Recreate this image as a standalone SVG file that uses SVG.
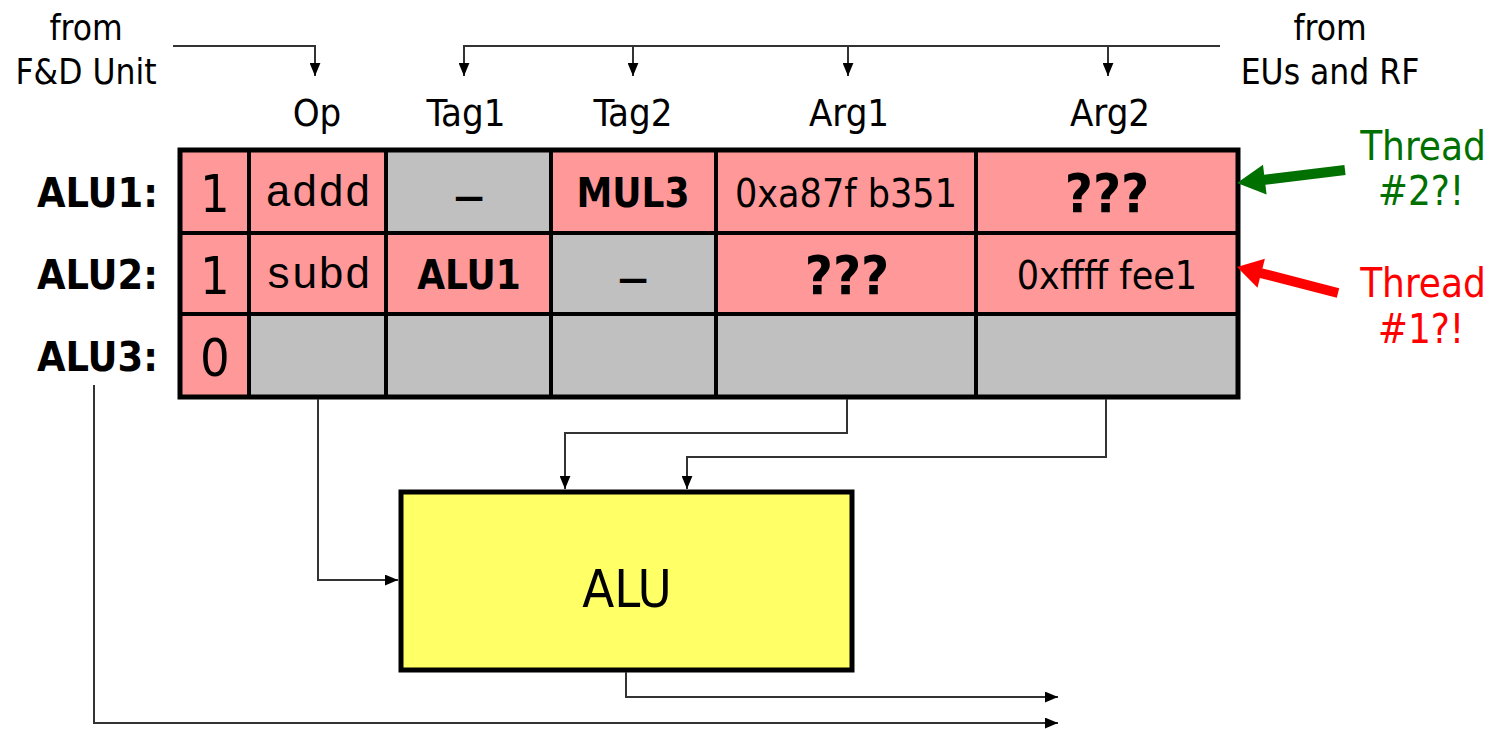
<svg xmlns="http://www.w3.org/2000/svg" width="1492" height="729" viewBox="0 0 1492 729">
<style>
.sans{font-family:"DejaVu Sans Condensed","DejaVu Sans","Liberation Sans",sans-serif;font-stretch:condensed;fill:#000}
.hdr{font-size:38px;text-anchor:middle}
.lbl{font-size:35px;text-anchor:middle}
.row{font-size:41px;font-weight:bold;text-anchor:end}
.val{font-size:39px;text-anchor:middle}
.bold{font-size:40px;font-weight:bold;text-anchor:middle}
.qq{font-size:54px;font-weight:bold;text-anchor:middle}
.dig{font-size:52px;text-anchor:middle}
.dash{font-size:33px;font-weight:bold;text-anchor:middle}
.mono{font-family:"Courier New","Nimbus Mono PS","Nimbus Mono L","FreeMono",Courier,"Liberation Mono",monospace;font-size:44px;text-anchor:middle;fill:#000}
.thr{font-size:40px;text-anchor:middle}
.pink{fill:#ff9999}
.gray{fill:#c0c0c0}
.grid{stroke:#000;stroke-width:4;fill:none}
.wire{stroke:#333;stroke-width:2;fill:none}
</style>
<defs>
<marker id="ah" viewBox="0 0 12 10" refX="12" refY="5" markerWidth="13" markerHeight="11" markerUnits="userSpaceOnUse" orient="auto">
<path d="M0,0 L12,5 L0,10 z" fill="#000"/>
</marker>
</defs>
<rect width="1492" height="729" fill="#fff"/>

<g id="src-fd">
<text class="sans lbl" x="86" y="40">from</text>
<text class="sans lbl" x="86" y="84">F&amp;D Unit</text>
</g>
<g id="src-eu">
<text class="sans lbl" x="1330" y="40">from</text>
<text class="sans lbl" x="1330" y="84">EUs and RF</text>
</g>

<g id="headers">
<text class="sans hdr" x="317" y="126">Op</text>
<text class="sans hdr" x="466" y="126">Tag1</text>
<text class="sans hdr" x="633" y="126">Tag2</text>
<text class="sans hdr" x="849" y="126">Arg1</text>
<text class="sans hdr" x="1110" y="126">Arg2</text>
</g>

<g id="row-labels">
<text class="sans row" x="158" y="207">ALU1:</text>
<text class="sans row" x="158" y="289">ALU2:</text>
<text class="sans row" x="158" y="371">ALU3:</text>
</g>

<g id="table">
<g id="row1">
<rect class="pink" x="180" y="150" width="69" height="83"/>
<rect class="pink" x="249" y="150" width="137" height="83"/>
<rect class="gray" x="386" y="150" width="165" height="83"/>
<rect class="pink" x="551" y="150" width="165" height="83"/>
<rect class="pink" x="716" y="150" width="260" height="83"/>
<rect class="pink" x="976" y="150" width="262" height="83"/>
<text class="sans dig" x="215" y="212">1</text>
<text class="mono" x="318" y="206">addd</text>
<text class="sans dash" x="469" y="208">—</text>
<text class="sans bold" x="633" y="207">MUL3</text>
<text class="sans val" x="846" y="207">0xa87f b351</text>
<text class="sans qq" x="1107" y="212">???</text>
</g>
<g id="row2">
<rect class="pink" x="180" y="233" width="69" height="81"/>
<rect class="pink" x="249" y="233" width="137" height="81"/>
<rect class="pink" x="386" y="233" width="165" height="81"/>
<rect class="gray" x="551" y="233" width="165" height="81"/>
<rect class="pink" x="716" y="233" width="260" height="81"/>
<rect class="pink" x="976" y="233" width="262" height="81"/>
<text class="sans dig" x="215" y="294">1</text>
<text class="mono" x="318" y="288">subd</text>
<text class="sans bold" x="469" y="289">ALU1</text>
<text class="sans dash" x="633" y="290">—</text>
<text class="sans qq" x="847" y="294">???</text>
<text class="sans val" x="1107" y="289">0xffff fee1</text>
</g>
<g id="row3">
<rect class="pink" x="180" y="314" width="69" height="83"/>
<rect class="gray" x="249" y="314" width="989" height="83"/>
<text class="sans dig" x="215" y="376">0</text>
</g>
<g id="grid">
<path class="grid" d="M249,150 V397 M386,150 V397 M551,150 V397 M716,150 V397 M976,150 V397 M180,233 H1238 M180,314 H1238"/>
<rect x="180" y="150" width="1058" height="247" fill="none" stroke="#000" stroke-width="5"/>
</g>
</g>

<g id="alu">
<rect x="401" y="492" width="451" height="178" fill="#ffff66" stroke="#000" stroke-width="5"/>
<text class="sans" x="627" y="607" font-size="52" text-anchor="middle">ALU</text>
</g>

<g id="thread2">
<polygon fill="#007000" points="1344.4,165 1264.2,174.7 1263,164.8 1237,183 1266.6,194.6 1265.4,184.7 1345.6,175"/>
<text class="sans thr" x="1423" y="160" style="fill:#007000">Thread</text>
<text class="sans thr" x="1421" y="205" style="fill:#007000">#2?!</text>
</g>
<g id="thread1">
<polygon fill="#ff0000" points="1339.2,288.2 1262.4,268.4 1264.9,258.7 1237,267 1257.5,287.7 1259.9,278 1336.8,297.8"/>
<text class="sans thr" x="1423" y="297" style="fill:#ff0000">Thread</text>
<text class="sans thr" x="1421" y="343" style="fill:#ff0000">#1?!</text>
</g>

<g id="connectors">
<path class="wire" d="M173,46 H315 V76" marker-end="url(#ah)"/>
<path class="wire" d="M1220,46 H464 V76" marker-end="url(#ah)"/>
<path class="wire" d="M633,46 V76" marker-end="url(#ah)"/>
<path class="wire" d="M848,46 V76" marker-end="url(#ah)"/>
<path class="wire" d="M1108,46 V76" marker-end="url(#ah)"/>
<path class="wire" d="M318,399 V580 H398" marker-end="url(#ah)"/>
<path class="wire" d="M847,399 V433 H565 V489" marker-end="url(#ah)"/>
<path class="wire" d="M1106,399 V457 H687 V489" marker-end="url(#ah)"/>
<path class="wire" d="M626,672 V697 H1058" marker-end="url(#ah)"/>
<path class="wire" d="M94,385 V723 H1058" marker-end="url(#ah)"/>
</g>
</svg>
